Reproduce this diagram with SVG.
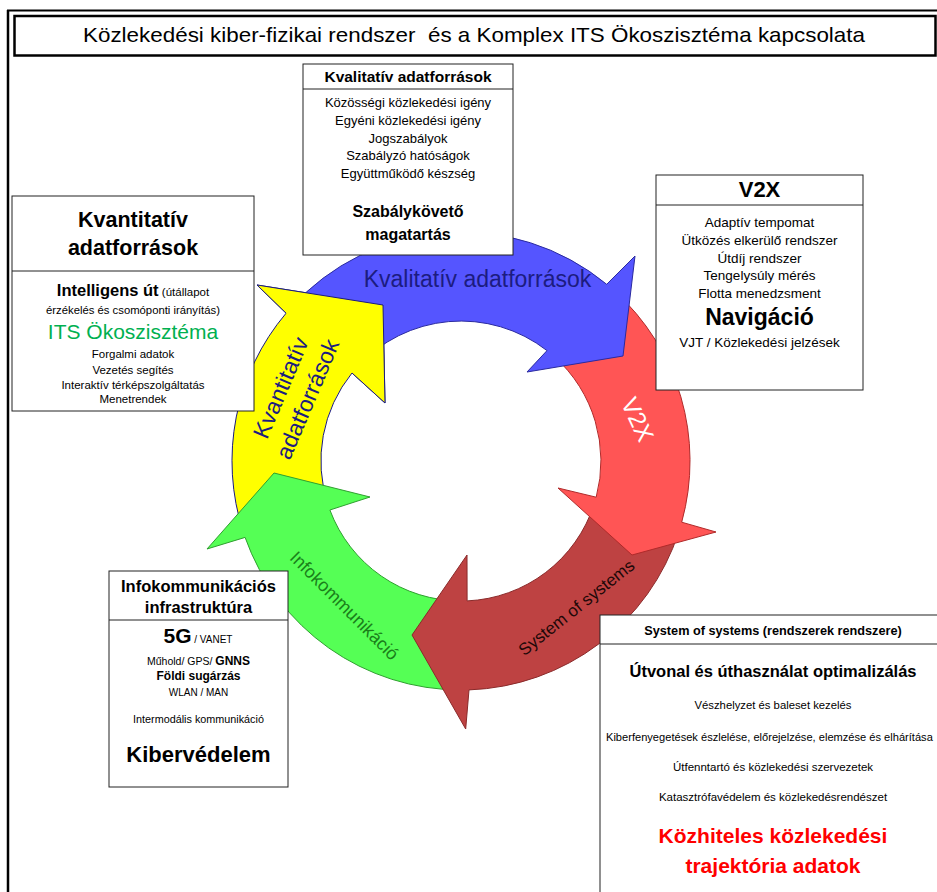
<svg xmlns="http://www.w3.org/2000/svg" width="937" height="892" viewBox="0 0 937 892">
<defs>
<style>
text{font-family:"Liberation Sans",Arial,sans-serif;fill:#000}
.c{text-anchor:middle}
.b{font-weight:bold}
.box{fill:#fff;stroke:#222;stroke-width:1}
.sep{stroke:#222;stroke-width:1}
.lbl{fill:#1c1c80}
</style>
</defs>
<rect x="0" y="0" width="937" height="892" fill="#fff"/>
<g id="frame">
<line x1="8" y1="10" x2="8" y2="892" stroke="#000" stroke-width="2.5"/>
<line x1="7" y1="10.5" x2="937" y2="10.5" stroke="#000" stroke-width="2"/>
<rect x="14.5" y="16" width="921" height="39.5" fill="#fff" stroke="#000" stroke-width="2.5"/>
</g>
<g id="title">
<text x="474" y="42" class="c" font-size="21" textLength="782" lengthAdjust="spacingAndGlyphs" style="white-space:pre">Közlekedési kiber-fizikai rendszer  és a Komplex ITS Ökoszisztéma kapcsolata</text>
</g>
<g id="connectors">
<path id="arrow-yellow" d="M243.2 531.8 A229 229 0 0 1 286.1 313.2 L257 285 L383 305 L385 403 L352 373 A140 140 0 0 0 327.8 504.3 Z" fill="#ffff00" stroke="#1a1a80" stroke-width="1"/>
<path id="arrow-green" d="M461 690 A229 229 0 0 1 245.1 537.4 L207 549 L274 473 L370 497 L329.9 510 A140 140 0 0 0 461 601 Z" fill="#55ff55" stroke="#2f9f2f" stroke-width="1"/>
<path id="arrow-brown" d="M678.8 531.8 A229 229 0 0 1 469 689.9 L465.7 729 L412 635 L467 555 L467.1 600.9 A140 140 0 0 0 594.1 504.3 Z" fill="#be4242" stroke="#8a2a2a" stroke-width="1"/>
<path id="arrow-red" d="M614.2 290.8 A229 229 0 0 1 681.7 522.2 L716 532 L632 555 L558 488 L596.2 497.2 A140 140 0 0 0 554.7 357 Z" fill="#ff5555" stroke="#b02a2a" stroke-width="1"/>
<path id="arrow-blue" d="M290.8 307.8 A229 229 0 0 1 606.7 284.3 L635 256 L623 356 L527 372 L547 350.6 A140 140 0 0 0 357 367.3 Z" fill="#5555ff" stroke="#2a2aa0" stroke-width="1"/>
<path d="M286.1 313.2 L257 285 L383 305 L385 403 L352 373 Z" fill="#ffff00"/>
<path d="M286.1 313.2 L257 285 L383 305 L385 403 L352 373" fill="none" stroke="#1a1a80" stroke-width="1"/>
<text x="477.5" y="287" class="c lbl" font-size="23">Kvalitatív adatforrások</text>
<g transform="translate(300,396) rotate(-67)">
<text x="0" y="-13" class="c lbl" font-size="23">Kvantitatív</text>
<text x="0" y="16" class="c lbl" font-size="23">adatforrások</text>
</g>
<text transform="translate(630,423) rotate(65)" x="0" y="0" class="c" font-size="24" style="fill:#fff">V2X</text>
<text transform="translate(340,610) rotate(45)" x="0" y="0" class="c" font-size="18" style="fill:#1a7f1a">Infokommunikáció</text>
<text transform="translate(580,612) rotate(-38.5)" x="0" y="0" class="c" font-size="17" style="fill:#200808">System of systems</text>
</g>
<g id="box-kvalitativ">
<rect x="303" y="64" width="210" height="191" class="box"/>
<line x1="303" y1="89" x2="513" y2="89" class="sep"/>
<text x="408" y="82" class="c b" font-size="15.5">Kvalitatív adatforrások</text>
<text x="408" y="107" class="c" font-size="13">Közösségi közlekedési igény</text>
<text x="408" y="125" class="c" font-size="13">Egyéni közlekedési igény</text>
<text x="408" y="143" class="c" font-size="13">Jogszabályok</text>
<text x="408" y="160" class="c" font-size="13">Szabályzó hatóságok</text>
<text x="408" y="178" class="c" font-size="13">Együttműködő készség</text>
<text x="408" y="217" class="c b" font-size="16">Szabálykövető</text>
<text x="408" y="240" class="c b" font-size="16">magatartás</text>
</g>
<g id="box-kvantitativ">
<rect x="12" y="196" width="242" height="215" class="box"/>
<line x1="12" y1="271" x2="254" y2="271" class="sep"/>
<text x="133" y="227" class="c b" font-size="21.5">Kvantitatív</text>
<text x="133" y="255" class="c b" font-size="21.5">adatforrások</text>
<text x="133" y="296" class="c"><tspan class="b" font-size="16.5">Intelligens út</tspan><tspan font-size="11.5"> (útállapot</tspan></text>
<text x="133" y="314" class="c" font-size="11.3">érzékelés és csomóponti irányítás)</text>
<text x="133" y="339" class="c" font-size="21" style="fill:#00b050">ITS Ökoszisztéma</text>
<text x="133" y="358" class="c" font-size="11.5">Forgalmi adatok</text>
<text x="133" y="374" class="c" font-size="11.5">Vezetés segítés</text>
<text x="133" y="389" class="c" font-size="11.5">Interaktív térképszolgáltatás</text>
<text x="133" y="403" class="c" font-size="11.5">Menetrendek</text>
</g>
<g id="box-v2x">
<rect x="656" y="175" width="207" height="215" class="box"/>
<line x1="656" y1="205" x2="863" y2="205" class="sep"/>
<text x="759.5" y="197" class="c b" font-size="22">V2X</text>
<text x="759.5" y="227" class="c" font-size="13.5">Adaptív tempomat</text>
<text x="759.5" y="245" class="c" font-size="13.5">Ütközés elkerülő rendszer</text>
<text x="759.5" y="263" class="c" font-size="13.5">Útdíj rendszer</text>
<text x="759.5" y="280" class="c" font-size="13.5">Tengelysúly mérés</text>
<text x="759.5" y="298" class="c" font-size="13.5">Flotta menedzsment</text>
<text x="759.5" y="325" class="c b" font-size="23">Navigáció</text>
<text x="759.5" y="347" class="c" font-size="13.5">VJT / Közlekedési jelzések</text>
</g>
<g id="box-infokom">
<rect x="109" y="571" width="179" height="216" class="box"/>
<line x1="109" y1="620" x2="288" y2="620" class="sep"/>
<text x="198.5" y="592" class="c b" font-size="16.5">Infokommunikációs</text>
<text x="198.5" y="613" class="c b" font-size="16.5">infrastruktúra</text>
<text x="198" y="643" class="c"><tspan class="b" font-size="21">5G</tspan><tspan font-size="10"> / VANET</tspan></text>
<text x="198.5" y="665" class="c"><tspan font-size="10.5">Műhold/ GPS/ </tspan><tspan class="b" font-size="12">GNNS</tspan></text>
<text x="198.5" y="680" class="c b" font-size="12">Földi sugárzás</text>
<text x="198.5" y="696" class="c" font-size="10">WLAN / MAN</text>
<text x="198.5" y="723" class="c" font-size="10.8">Intermodális kommunikáció</text>
<text x="198.5" y="762" class="c b" font-size="22">Kibervédelem</text>
</g>
<g id="box-sos">
<rect x="600" y="615" width="350" height="300" class="box"/>
<line x1="600" y1="644" x2="937" y2="644" class="sep"/>
<text x="773" y="635" class="c b" font-size="12.7">System of systems (rendszerek rendszere)</text>
<text x="773" y="677" class="c b" font-size="16.5">Útvonal és úthasználat optimalizálás</text>
<text x="773" y="709" class="c" font-size="11.3">Vészhelyzet és baleset kezelés</text>
<text x="606" y="741" font-size="11.1">Kiberfenyegetések észlelése, előrejelzése, elemzése és elhárítása</text>
<text x="773" y="771" class="c" font-size="11.5">Útfenntartó és közlekedési szervezetek</text>
<text x="773" y="801" class="c" font-size="11.5">Katasztrófavédelem és közlekedésrendészet</text>
<text x="773" y="843" class="c b" font-size="21" style="fill:#ff0000">Közhiteles közlekedési</text>
<text x="773" y="873" class="c b" font-size="21" style="fill:#ff0000">trajektória adatok</text>
</g>
</svg>
